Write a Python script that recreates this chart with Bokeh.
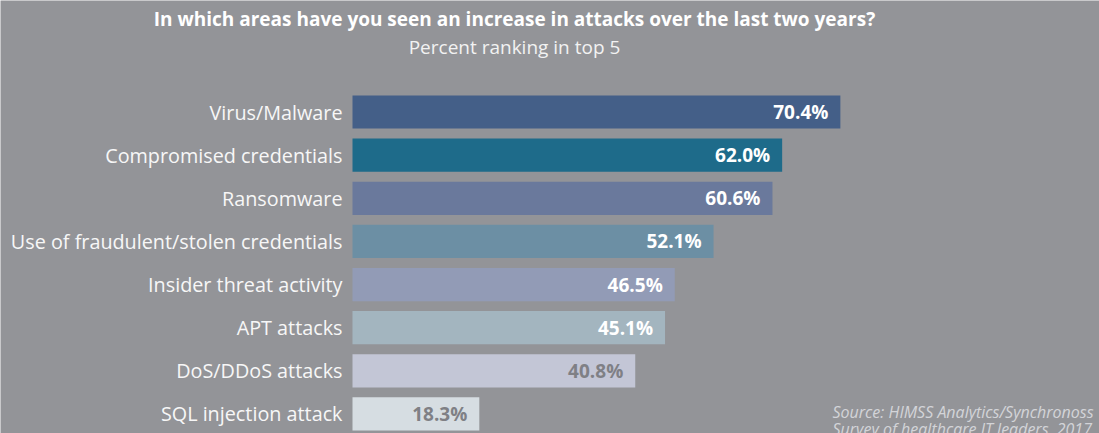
from bokeh.plotting import figure
from bokeh.models import ColumnDataSource, Range1d, Label
from bokeh.core.properties import value
from bokeh.embed import file_html
from bokeh.resources import INLINE

categories = [
    "Virus/Malware",
    "Compromised credentials",
    "Ransomware",
    "Use of fraudulent/stolen credentials",
    "Insider threat activity",
    "APT attacks",
    "DoS/DDoS attacks",
    "SQL injection attack",
]
percents = [70.4, 62.0, 60.6, 52.1, 46.5, 45.1, 40.8, 18.3]
bar_colors = ["#445f88", "#1e6b8a", "#6a799c", "#6c8fa4",
              "#929bb6", "#a3b5bf", "#c3c6d6", "#d6dde2"]
value_colors = ["#ffffff"] * 6 + ["#7f8085", "#7f8085"]

title = "In which areas have you seen an increase in attacks over the last two years?"
subtitle = "Percent ranking in top 5"
source_lines = ["Source: HIMSS Analytics/Synchronoss", "Survey of healthcare IT leaders, 2017"]

BG = "#939498"
W, H = 1099, 433
FONT = "Open Sans"

idx = list(range(len(categories)))
src = ColumnDataSource(dict(
    y=idx,
    cat=categories,
    val=percents,
    lab=[f"{v:.1f}%" for v in percents],
    color=bar_colors,
    vcolor=value_colors,
    zero=[0] * len(categories),
))

px_per_unit = 6.93
x0 = 352
row_px = 43.14
first_row = 111.5
p = figure(width=W, height=H, output_backend="svg", toolbar_location=None,
           x_range=Range1d(-x0 / px_per_unit, (W - x0) / px_per_unit),
           y_range=Range1d((H - first_row) / row_px, -first_row / row_px),
           min_border=0, background_fill_color=BG, border_fill_color=BG)
p.axis.visible = False
p.grid.visible = False
p.outline_line_color = None

p.hbar(y="y", left=0, right="val", height=0.77, color="color", line_color=None, source=src)

p.text(x="zero", y="y", text="cat", source=src, x_offset=-10,
       text_align="right", text_baseline="middle", text_color="#f7f7f7",
       text_font=value(FONT), text_font_size="19.8px")

p.text(x="val", y="y", text="lab", source=src, x_offset=-12,
       text_align="right", text_baseline="middle", text_color="vcolor",
       text_font=value(FONT), text_font_size="19px", text_font_style="bold")

p.add_layout(Label(x=514, y=H - 18, x_units="screen", y_units="screen", text=title,
                   text_align="center", text_baseline="middle", text_color="#ffffff",
                   text_font=FONT, text_font_size="19px", text_font_style="bold"))
p.add_layout(Label(x=514, y=H - 46, x_units="screen", y_units="screen", text=subtitle,
                   text_align="center", text_baseline="middle", text_color="#f2f2f2",
                   text_font=FONT, text_font_size="19px"))
for i, line in enumerate(source_lines):
    p.add_layout(Label(x=832, y=H - 411 - 17 * i, x_units="screen", y_units="screen", text=line,
                       text_align="left", text_baseline="middle", text_color="#d3d4d8",
                       text_font=FONT, text_font_size="16px", text_font_style="italic"))

open("out.html", "w").write(file_html(p, INLINE))
